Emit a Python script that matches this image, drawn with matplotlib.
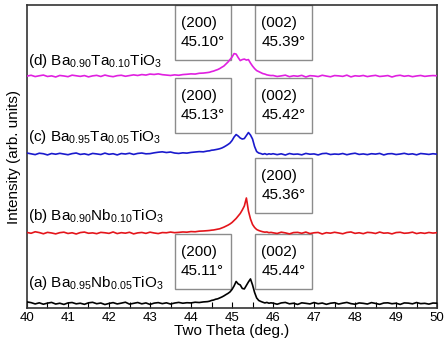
"""XRD patterns (2theta = 40-50 deg) of Nb- and Ta-doped BaTiO3, stacked."""

import matplotlib.pyplot as plt
import numpy as np
from matplotlib.patches import Rectangle
from matplotlib.ticker import MultipleLocator

plt.rcParams["font.family"] = ["Liberation Sans", "DejaVu Sans"]
plt.rcParams["mathtext.fontset"] = "custom"
plt.rcParams["mathtext.rm"] = "Liberation Sans"
plt.rcParams["mathtext.default"] = "regular"

# sampling grid: 0.1 deg steps, 0.05 deg through the (200)/(002) region
TWO_THETA = np.concatenate([
    np.linspace(40.0, 44.4, 45),
    np.linspace(44.45, 45.95, 31),
    np.linspace(46.0, 50.0, 41),
])

# intensities above each pattern's own baseline (arb. units)
A_LOW = [1.5, 0.8, -0.5, 0.6, -0.8, 0.3, 1.0, -0.6, 0.2, -1.0, 0.5, 0.9, -0.4, 0.2, -0.9,
         0.6, 1.1, -0.3, 0.4, -1.1, 0.0, 0.8, -0.5, 0.3, 1.2, -0.7, 0.1, 0.9, -0.4, 0.5,
         -1.0, 0.3, 0.8, -0.2, 0.6, -0.6, 0.4, 1.0, 0.2, 0.7, 0.5, 1.2, 0.9, 1.5, 1.8]
A_PEAK = [2.2, 3.0, 3.4, 4.2, 4.6, 5.5, 6.4, 7.5, 8.8, 10.0, 11.5, 14.0, 17.5, 22.0, 19.5,
          18.5, 15.0, 14.5, 18.0, 21.5, 24.5, 18.5, 11.0, 5.5, 3.0, 2.0, 1.2, 0.5, 1.0, 0.2, 0.6]
A_HIGH = [0.3, -0.8, 0.5, 1.0, -0.4, 0.2, -1.0, 0.6, 0.1, -0.5, 0.9, -0.3, 0.4, -0.9, 0.2,
          0.7, -0.6, 0.3, 1.0, -0.2, -0.8, 0.5, 0.1, -0.6, 0.8, 0.0, -0.9, 0.4, 0.6, -0.3,
          0.2, -1.0, 0.5, 0.3, -0.4, 0.9, -0.2, 0.1, -0.7, 0.4, 0.2]

B_LOW = [0.5, -0.3, 1.2, 0.4, -0.8, 0.6, 0.0, -0.9, 0.3, 0.8, -0.5, 0.2, -1.0, 0.4, 0.9,
         -0.3, 0.1, -0.7, 0.6, 0.2, -0.4, 1.0, -0.6, 0.3, -0.2, 0.7, -0.9, 0.1, 0.5, -0.4,
         0.8, 0.0, -0.6, 0.4, 0.2, 0.9, 0.3, 0.6, 1.0, 0.8, 1.4, 1.2, 1.8, 2.0, 2.3]
B_PEAK = [2.5, 2.8, 3.0, 3.4, 3.8, 4.2, 5.0, 5.8, 6.8, 7.8, 9.0, 10.5, 12.5, 14.5, 17.0,
          19.5, 23.0, 27.0, 35.0, 22.0, 14.0, 8.5, 5.5, 3.5, 2.5, 1.8, 1.2, 0.8, 1.0, 0.3, 0.6]
B_HIGH = [0.2, -0.5, 0.8, 0.1, -0.9, 0.4, 0.6, -0.3, 0.9, -0.6, 0.2, 0.5, -1.0, 0.3, -0.2,
          0.7, 0.0, -0.8, 0.5, 1.0, -0.4, 0.2, -0.7, 0.6, 0.3, -0.5, 0.9, -0.2, 0.1, -0.9,
          0.4, 0.7, -0.3, 0.0, 0.8, -0.6, 0.2, -0.4, 0.5, -0.1, 0.3]

C_LOW = [1.0, 0.2, -0.6, 0.8, 0.3, -0.9, 0.5, -0.2, 0.7, 0.0, -0.7, 0.4, 1.0, -0.4, 0.2,
         -0.8, 0.6, 0.1, -0.5, 0.9, -0.3, 0.3, -0.9, 0.5, 0.0, 0.8, -0.4, 0.6, 1.0, 0.2,
         0.4, 1.2, 1.8, 2.2, 1.5, 2.0, 1.0, 0.6, 1.2, 0.9, 1.6, 2.0, 2.4, 2.2, 3.0]
C_PEAK = [3.2, 3.8, 4.0, 4.4, 4.8, 5.3, 6.0, 7.0, 8.2, 9.5, 11.0, 13.5, 17.0, 19.5, 18.0,
          16.0, 15.0, 15.5, 18.5, 21.5, 19.0, 15.0, 7.5, 2.5, 1.0, 0.5, -0.3, 0.4, -0.5, 0.2, -0.2]
C_HIGH = [0.3, -0.6, 0.2, -1.0, 0.5, -0.3, 0.0, -0.8, 0.6, -0.2, 0.1, -0.9, 0.4, 0.7, -0.5,
          0.0, -0.3, 0.5, -0.7, 0.2, 0.8, -0.4, 0.1, -0.6, 0.3, -0.1, 0.6, -0.9, 0.2, 0.4,
          -0.5, 0.0, 0.7, -0.3, 0.2, -0.8, 0.5, 0.1, -0.4, 0.3, -0.2]

D_LOW = [0.0, 0.8, -0.5, 0.3, 1.0, -0.4, 0.2, -0.9, 0.6, 0.1, -0.6, 0.9, 0.3, -0.3, 0.5,
         -0.8, 0.2, 0.7, -0.4, 1.0, 0.0, -0.6, 0.4, 0.8, -0.2, 0.5, 1.2, 0.6, 1.5, 1.0,
         2.0, 1.6, 2.2, 1.4, 1.0, 0.6, 1.2, 0.8, 1.5, 1.8, 2.2, 2.0, 2.8, 3.0, 3.5]
D_PEAK = [3.8, 4.5, 5.0, 5.8, 6.5, 7.5, 8.8, 10.0, 12.0, 14.0, 16.5, 19.0, 22.5, 22.0, 18.5,
          15.5, 16.5, 17.0, 16.0, 16.5, 13.0, 10.0, 7.5, 5.5, 4.5, 3.5, 2.5, 2.0, 1.2, 0.8, 0.5]
D_HIGH = [0.6, -0.4, 0.2, 0.9, -0.6, 0.3, -0.2, 0.7, -0.9, 0.4, 0.1, -0.5, 0.8, 0.0, -0.7,
          0.5, 0.2, -0.3, 0.9, -0.8, 0.3, -0.1, 0.6, -0.5, 0.2, 0.7, -0.4, 0.0, 0.5, -0.9,
          0.3, 0.8, -0.2, 0.4, -0.6, 0.1, 0.6, -0.3, 0.2, 0.5, 0.3]

SAMPLES = [
    r"(a) Ba$_{0.95}$Nb$_{0.05}$TiO$_{3}$",
    r"(b) Ba$_{0.90}$Nb$_{0.10}$TiO$_{3}$",
    r"(c) Ba$_{0.95}$Ta$_{0.05}$TiO$_{3}$",
    r"(d) Ba$_{0.90}$Ta$_{0.10}$TiO$_{3}$",
]
OFFSETS = [4.5, 75, 154, 232]
COLORS = ["#000000", "#e4151b", "#1a1acd", "#e020e0"]

# (hkl, peak position) annotations per pattern
PEAK_LABELS = [
    [("(200)", "45.11°"), ("(002)", "45.44°")],
    [None, ("(200)", "45.36°")],
    [("(200)", "45.13°"), ("(002)", "45.42°")],
    [("(200)", "45.10°"), ("(002)", "45.39°")],
]


def peak_box(ax, x0, y0, hkl, angle):
    ax.add_patch(Rectangle((x0, y0), 1.38, 55, facecolor="white",
                           edgecolor="#8c8c8c", linewidth=1.0, zorder=1))
    ax.text(x0 + 0.15, y0 + 27.5, f"{hkl}\n{angle}", fontsize=11,
            ha="left", va="center", linespacing=1.45, zorder=2)


fig = plt.figure(figsize=(4.46, 3.41), dpi=100)
ax = fig.add_axes([0.0605, 0.097, 0.9195, 0.888])

patterns = [
    (A_LOW, A_PEAK, A_HIGH),
    (B_LOW, B_PEAK, B_HIGH),
    (C_LOW, C_PEAK, C_HIGH),
    (D_LOW, D_PEAK, D_HIGH),
]
for (low, peak, high), offset, color in zip(patterns, OFFSETS, COLORS):
    y = np.concatenate([low, peak, high]) + offset
    ax.plot(TWO_THETA, y, color=color, linewidth=1.2, zorder=3)

# annotation boxes (left one ends just before the (200) peak, right one after (002))
box_rows = [19, 95, 175, 248]
for labels, y0 in zip(PEAK_LABELS, box_rows):
    left, right = labels
    if left is not None:
        peak_box(ax, 43.6, y0, *left)
    if right is not None:
        peak_box(ax, 45.56, y0, *right)

label_y = [21, 88, 167, 243]
for name, y0 in zip(SAMPLES, label_y):
    ax.text(40.03, y0, name, fontsize=11, ha="left", va="baseline", zorder=4)

ax.set_xlim(40, 50)
ax.set_ylim(0, 303)
ax.xaxis.set_major_locator(MultipleLocator(1))
ax.xaxis.set_minor_locator(MultipleLocator(0.5))
ax.tick_params(axis="x", which="both", direction="in", length=4, width=0.8,
               labelsize=9.5, pad=3, top=False)
ax.set_yticks([])
for side in ax.spines.values():
    side.set_linewidth(1.2)
    side.set_color("#333333")

ax.set_xlabel("Two Theta (deg.)", fontsize=11, labelpad=0)
ax.set_ylabel("Intensity (arb. units)", fontsize=11, labelpad=4)

fig.savefig("out.png", dpi=100)
